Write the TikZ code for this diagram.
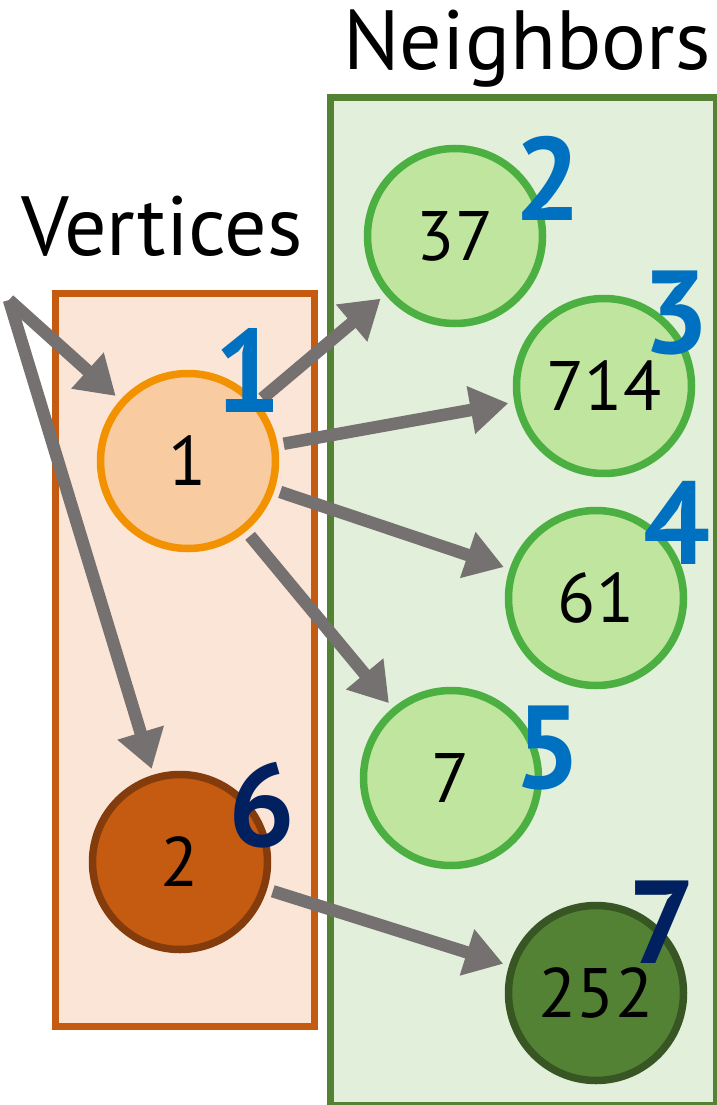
\documentclass[tikz,border=0pt]{standalone}
\usepackage{fontspec}
\setmainfont{PT Sans}
\usetikzlibrary{arrows.meta}
\definecolor{vbox}{HTML}{C55A11}
\definecolor{vfill}{HTML}{FBE5D6}
\definecolor{nbox}{HTML}{548235}
\definecolor{nfill}{HTML}{E2EFDA}
\definecolor{onefill}{HTML}{F8CBA0}
\definecolor{onedraw}{HTML}{F39200}
\definecolor{twofill}{HTML}{C55A11}
\definecolor{twodraw}{HTML}{843C0C}
\definecolor{gfill}{HTML}{C0E59F}
\definecolor{gdraw}{HTML}{4BB041}
\definecolor{dfill}{HTML}{548235}
\definecolor{ddraw}{HTML}{375623}
\definecolor{edgegray}{HTML}{767171}
\definecolor{stepblue}{HTML}{0070C0}
\definecolor{stepnavy}{HTML}{002060}
\begin{document}
\begin{tikzpicture}[x=1pt,y=-1pt,
  vertexnode/.style={circle,line width=7.5pt,minimum size=175pt,inner sep=0pt,
    font=\fontsize{70}{70}\selectfont},
  neighnode/.style={vertexnode,fill=gfill,draw=gdraw},
  edge/.style={draw=edgegray,line width=12.5pt,
    -{Triangle[length=38pt,width=46pt]},shorten >=6pt,shorten <=6pt},
  steplabel/.style={font=\fontsize{118}{118}\selectfont\bfseries,inner sep=0pt},
  title/.style={font=\fontsize{84}{84}\selectfont,anchor=base,inner sep=0pt}]
\useasboundingbox (0,0) rectangle (717,1105);
% group boxes
\node[draw=nbox,fill=nfill,line width=7pt,minimum width=386pt,minimum height=1007pt,
  inner sep=0pt,anchor=north west] (nbr) at (327,94.5) {};
\node[draw=vbox,fill=vfill,line width=6.5pt,minimum width=259pt,minimum height=733pt,
  inner sep=0pt,anchor=north west] (vtx) at (52,290) {};
% titles
\node[title] (vtitle) at (162,255) {Vertices};
\node[title] (ntitle) at (527,70) {Neighbors};
% vertices
\node[vertexnode,fill=onefill,draw=onedraw] (n1) at (188,461) {1};
\node[vertexnode,fill=twofill,draw=twodraw] (n2) at (180,862) {2};
% neighbours
\node[neighnode] (n37) at (455,236) {37};
\node[neighnode] (n714) at (604,386) {714};
\node[neighnode] (n61) at (596,598) {61};
\node[neighnode] (n7) at (451,778) {7};
\node[vertexnode,fill=dfill,draw=ddraw] (n252) at (596,993) {252};
% incoming edges
\coordinate (src) at (9,300);
\draw[edge,shorten <=0pt] (src) -- (n1);
\draw[edge,shorten <=0pt] (src) -- (n2);
% outgoing edges
\draw[edge] (n1) -- (n37);
\draw[edge] (n1) -- (n714);
\draw[edge] (n1) -- (n61);
\draw[edge] (n1) -- (n7);
\draw[edge] (n2) -- (n252);
% step numbers
\node[steplabel,text=stepblue] (s1) at (248,370) {1};
\node[steplabel,text=stepblue] (s2) at (548,178) {2};
\node[steplabel,text=stepblue] (s3) at (676,313) {3};
\node[steplabel,text=stepblue] (s4) at (677,523) {4};
\node[steplabel,text=stepblue] (s5) at (548,748) {5};
\node[steplabel,text=stepnavy] (s6) at (262,805) {6};
\node[steplabel,text=stepnavy] (s7) at (662,922) {7};
\end{tikzpicture}
\end{document}
